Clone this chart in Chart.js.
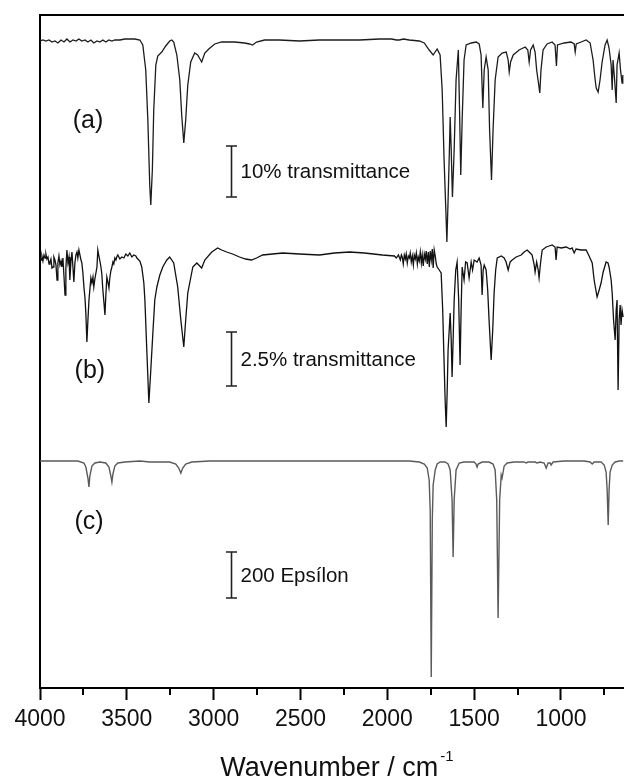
<!DOCTYPE html>
<html><head><meta charset="utf-8">
<style>html,body{margin:0;padding:0;background:#fff;overflow:hidden}canvas{display:block}</style>
<script src="https://cdn.jsdelivr.net/npm/chart.js@4.4.1/dist/chart.umd.min.js"></script>
</head><body>
<canvas id="c" width="624" height="779"></canvas>
<script>
// [wavenumber (cm-1), offset intensity (a.u.)]
const traceA = [[4000,647],[3983,648],[3966,647],[3948,648],[3931,646],[3914,647],[3897,645],[3879,648],[3862,646],[3845,649],[3828,646],[3810,648],[3793,647],[3776,649],[3759,647],[3741,648],[3724,646],[3707,648],[3690,645],[3672,647],[3655,646],[3638,648],[3621,646],[3603,648],[3586,647],[3569,648],[3540,648],[3511,649],[3483,649],[3454,649],[3425,648],[3408,643],[3391,618],[3379,568],[3368,503],[3362,483],[3353,518],[3345,578],[3333,623],[3322,632],[3299,636],[3276,642],[3253,647],[3241,648],[3230,646],[3212,633],[3195,608],[3184,573],[3172,545],[3161,568],[3149,603],[3132,626],[3109,635],[3092,633],[3069,626],[3051,635],[3028,639],[2994,644],[2954,646],[2879,646],[2822,645],[2793,644],[2776,643],[2753,646],[2707,648],[2621,648],[2506,647],[2391,648],[2275,648],[2160,648],[2045,649],[1976,649],[1947,648],[1931,648],[1907,649],[1874,648],[1816,647],[1787,645],[1759,638],[1736,633],[1713,639],[1696,633],[1684,598],[1673,528],[1661,468],[1657,446],[1650,488],[1641,548],[1638,571],[1632,538],[1625,491],[1615,538],[1604,608],[1591,638],[1584,578],[1577,513],[1569,568],[1558,628],[1546,643],[1517,645],[1488,646],[1471,644],[1460,633],[1450,580],[1442,618],[1431,631],[1419,618],[1411,558],[1400,508],[1391,558],[1379,608],[1362,631],[1339,635],[1315,636],[1304,628],[1298,616],[1290,626],[1275,633],[1241,638],[1206,641],[1191,638],[1183,626],[1175,638],[1160,643],[1149,636],[1140,618],[1132,608],[1122,595],[1115,618],[1103,638],[1080,644],[1051,646],[1034,643],[1026,622],[1020,643],[982,645],[942,646],[924,644],[918,636],[912,644],[884,646],[855,648],[832,645],[815,628],[803,608],[797,600],[786,596],[775,608],[763,626],[746,643],[734,648],[723,640],[711,623],[705,598],[700,628],[691,608],[682,585],[677,623],[665,635],[657,618],[648,605],[644,613]];
const traceB = [[4000,431],[3994,428],[3989,432],[3983,427],[3977,433],[3971,430],[3966,434],[3960,429],[3954,431],[3948,424],[3943,426],[3937,429],[3931,420],[3925,421],[3920,431],[3914,428],[3908,423],[3902,408],[3897,425],[3891,432],[3885,423],[3879,427],[3874,421],[3868,430],[3862,412],[3856,393],[3851,420],[3845,438],[3839,425],[3833,431],[3828,408],[3822,426],[3816,436],[3810,420],[3805,406],[3799,425],[3793,433],[3787,436],[3782,430],[3776,438],[3770,433],[3764,428],[3759,425],[3753,415],[3747,401],[3741,390],[3736,375],[3730,346],[3724,368],[3718,388],[3713,398],[3707,410],[3701,405],[3695,411],[3690,401],[3684,409],[3678,415],[3672,421],[3667,438],[3661,432],[3655,427],[3649,421],[3644,414],[3638,398],[3632,386],[3626,373],[3621,392],[3615,411],[3609,406],[3603,400],[3598,410],[3592,417],[3586,421],[3580,426],[3575,424],[3569,430],[3563,428],[3558,431],[3552,433],[3540,429],[3529,431],[3517,430],[3506,434],[3494,432],[3483,435],[3471,431],[3460,433],[3448,432],[3442,430],[3425,427],[3414,421],[3402,405],[3396,388],[3385,338],[3373,285],[3362,318],[3350,355],[3339,388],[3327,401],[3310,413],[3293,421],[3270,428],[3253,431],[3230,425],[3207,401],[3189,368],[3172,341],[3161,368],[3149,395],[3120,421],[3097,425],[3069,420],[3051,428],[3011,436],[2977,440],[2954,438],[2925,436],[2891,434],[2851,431],[2816,429],[2782,428],[2753,430],[2718,433],[2661,434],[2603,435],[2506,434],[2391,433],[2304,435],[2218,436],[2132,435],[2028,433],[1959,432],[1948,430],[1936,433],[1925,428],[1919,433],[1914,431],[1908,424],[1902,433],[1896,429],[1891,434],[1885,425],[1879,432],[1873,430],[1868,435],[1862,426],[1856,432],[1850,423],[1845,433],[1839,429],[1833,435],[1827,424],[1822,431],[1816,427],[1810,436],[1804,425],[1799,433],[1793,422],[1787,434],[1781,429],[1776,437],[1770,424],[1764,436],[1758,421],[1753,437],[1747,428],[1741,439],[1736,420],[1730,438],[1724,432],[1718,424],[1713,421],[1701,418],[1690,415],[1681,378],[1675,338],[1667,288],[1661,261],[1655,298],[1650,338],[1638,375],[1632,348],[1627,311],[1621,348],[1615,388],[1606,418],[1598,426],[1589,388],[1581,323],[1575,378],[1569,421],[1558,408],[1549,426],[1540,425],[1529,410],[1517,426],[1509,418],[1500,428],[1483,426],[1471,430],[1460,423],[1454,393],[1448,418],[1442,423],[1431,418],[1422,398],[1414,368],[1402,328],[1393,358],[1385,395],[1376,418],[1367,430],[1344,432],[1327,430],[1316,426],[1304,418],[1293,426],[1281,428],[1258,431],[1229,433],[1212,436],[1195,438],[1177,435],[1166,433],[1154,423],[1149,416],[1140,426],[1131,418],[1126,410],[1117,426],[1108,438],[1085,441],[1068,442],[1051,443],[1034,441],[1028,428],[1022,441],[999,440],[970,441],[947,439],[936,440],[924,435],[913,439],[884,438],[855,438],[838,432],[820,425],[809,408],[792,391],[780,398],[769,405],[757,416],[740,426],[729,425],[723,421],[711,408],[705,395],[697,368],[688,348],[682,378],[677,388],[671,298],[665,368],[659,383],[654,363],[648,378],[642,371]];
const traceC = [[4000,227],[3885,227],[3782,227],[3747,225],[3736,221],[3724,210],[3718,201],[3713,212],[3701,222],[3684,225],[3655,226],[3621,225],[3603,221],[3592,212],[3586,206],[3580,214],[3569,222],[3552,225],[3511,226],[3425,227],[3368,226],[3253,226],[3218,224],[3201,220],[3189,215],[3178,220],[3161,224],[3126,226],[3023,227],[2793,227],[2506,227],[2218,227],[1931,227],[1874,227],[1816,226],[1787,224],[1770,220],[1759,208],[1753,178],[1747,11],[1741,168],[1736,203],[1724,218],[1713,224],[1696,226],[1667,226],[1650,224],[1638,218],[1627,188],[1621,131],[1615,188],[1604,218],[1586,225],[1558,226],[1500,226],[1489,224],[1483,221],[1477,224],[1454,226],[1414,226],[1391,224],[1379,218],[1370,188],[1362,70],[1353,188],[1344,213],[1339,210],[1327,222],[1310,225],[1270,226],[1212,226],[1201,225],[1189,226],[1149,226],[1137,225],[1120,226],[1097,225],[1085,220],[1074,225],[1062,225],[1057,223],[1045,226],[982,227],[867,227],[832,226],[820,224],[809,226],[769,226],[751,223],[740,216],[734,198],[728,163],[723,198],[717,216],[705,223],[688,226],[665,227],[642,227]];

const majorTicks = [4000, 3500, 3000, 2500, 2000, 1500, 1000];
const minorTicks = [3750, 3250, 2750, 2250, 1750, 1250, 750];
const xRange = [637, 4000];
const yRange = [0, 673];
const panelLabels = ['(a)', '(b)', '(c)'];
const panelLabelPos = [[3724, 567], [3713, 317], [3718, 166]];
const barTexts = ['10% transmittance', '2.5% transmittance', '200 Epsílon'];
const barRanges = [[491, 542], [302, 356], [90, 136]];
const barWn = 2902;
const xTitle = 'Wavenumber / cm';
const xTitleSup = '-1';

const FONT = "'Liberation Sans', Arial, Helvetica, sans-serif";
const toXY = arr => arr.map(p => ({x: p[0], y: p[1]}));

const overlay = {
  id: 'overlay',
  afterDraw(chart) {
    const {ctx, scales: {x, y}} = chart;
    ctx.save();
    ctx.strokeStyle = '#000';
    ctx.lineWidth = 2;
    minorTicks.forEach(v => {
      const px = Math.round(x.getPixelForValue(v));
      ctx.beginPath(); ctx.moveTo(px, x.top); ctx.lineTo(px, x.top + 7); ctx.stroke();
    });
    ctx.fillStyle = '#111';
    ctx.font = '25px ' + FONT;
    ctx.textAlign = 'center';
    ctx.textBaseline = 'middle';
    panelLabels.forEach((t, i) => {
      ctx.fillText(t, x.getPixelForValue(panelLabelPos[i][0]), y.getPixelForValue(panelLabelPos[i][1]));
    });
    ctx.strokeStyle = '#222';
    ctx.lineWidth = 1.6;
    barTexts.forEach((t, i) => {
      const px = Math.round(x.getPixelForValue(barWn)) + 0.5;
      const y0 = y.getPixelForValue(barRanges[i][0]);
      const y1 = y.getPixelForValue(barRanges[i][1]);
      ctx.beginPath();
      ctx.moveTo(px, y0); ctx.lineTo(px, y1);
      ctx.moveTo(px - 5.5, y0); ctx.lineTo(px + 5.5, y0);
      ctx.moveTo(px - 5.5, y1); ctx.lineTo(px + 5.5, y1);
      ctx.stroke();
      ctx.font = '20.5px ' + FONT;
      ctx.textAlign = 'left';
      ctx.fillText(t, px + 9, (y0 + y1) / 2 + 1);
    });
    ctx.font = '27px ' + FONT;
    const w1 = ctx.measureText(xTitle).width;
    ctx.font = '15px ' + FONT;
    const w2 = ctx.measureText(xTitleSup).width;
    const cx = (x.left + x.right) / 2 + 5;
    const start = cx - (w1 + w2 + 2) / 2;
    const base = x.bottom - 3;
    ctx.textAlign = 'left';
    ctx.textBaseline = 'alphabetic';
    ctx.font = '27px ' + FONT;
    ctx.fillText(xTitle, start, base);
    ctx.font = '15px ' + FONT;
    ctx.fillText(xTitleSup, start + w1 + 2, base - 15);
    ctx.restore();
  }
};

new Chart(document.getElementById('c'), {
  type: 'line',
  data: {
    datasets: [
      {data: toXY(traceA), borderColor: '#1c1c1c', borderWidth: 1.3},
      {data: toXY(traceB), borderColor: '#111', borderWidth: 1.3},
      {data: toXY(traceC), borderColor: '#5a5a5a', borderWidth: 1.4}
    ]
  },
  options: {
    responsive: false,
    animation: false,
    layout: {padding: 0},
    elements: {point: {radius: 0}, line: {tension: 0}},
    plugins: {legend: {display: false}, tooltip: {enabled: false}},
    scales: {
      x: {
        type: 'linear', position: 'bottom', reverse: true,
        min: xRange[0], max: xRange[1],
        afterBuildTicks: s => { s.ticks = majorTicks.map(v => ({value: v})); },
        afterFit: s => { s.height = 91; },
        grid: {display: true, drawOnChartArea: false, drawTicks: true, tickLength: 12, tickWidth: 2, tickColor: '#000'},
        border: {display: true, width: 2, color: '#000'},
        ticks: {color: '#111', font: {family: FONT, size: 23}, padding: 6, maxRotation: 0, autoSkip: false,
                callback: v => String(v)}
      },
      x2: {
        type: 'linear', position: 'top', display: true,
        afterFit: s => { s.height = 15; },
        grid: {display: false},
        ticks: {display: false},
        border: {display: true, width: 2, color: '#000'}
      },
      y: {
        type: 'linear', min: yRange[0], max: yRange[1],
        afterFit: s => { s.width = 40; },
        grid: {display: false},
        ticks: {display: false},
        border: {display: true, width: 2, color: '#000'}
      }
    }
  },
  plugins: [overlay]
});
</script>
</body></html>
